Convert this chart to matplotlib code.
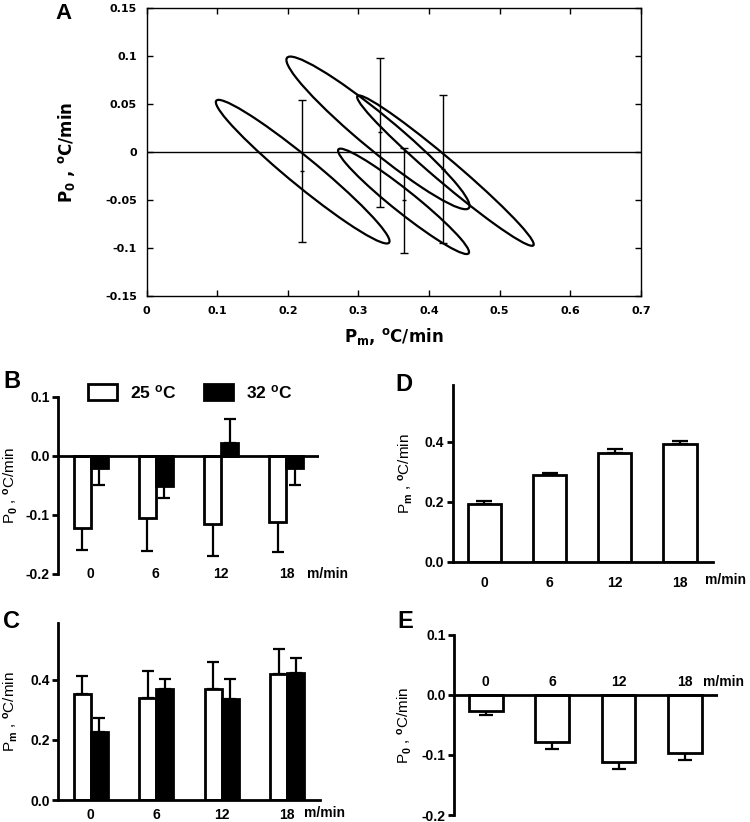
import numpy as np
import matplotlib
matplotlib.use('Agg')
import matplotlib.pyplot as plt
from matplotlib.patches import Circle, Patch
from matplotlib.transforms import Affine2D

# panel A: ellipses -> centre, half vector to the upper-left tip, horizontal half-width
ell_cx = [0.221, 0.3276, 0.4231, 0.3638]
ell_cy = [-0.0205, 0.0199, -0.0194, -0.0514]
ell_ax = [-0.119, -0.124, -0.1225, -0.0893]
ell_ay = [0.0748, 0.0795, 0.0783, 0.0549]
ell_bx = [0.031, 0.038, 0.025, 0.025]

# panel A: error bars (low / high ends)
eb_x = [0.22, 0.33, 0.365, 0.42]
eb_lo = [-0.094, -0.057, -0.105, -0.095]
eb_hi = [0.054, 0.098, 0.004, 0.059]

speeds = ['0', '6', '12', '18']

b_25 = [-0.123, -0.106, -0.115, -0.112]
b_25_err = [0.037, 0.056, 0.055, 0.052]
b_32 = [-0.021, -0.052, 0.021, -0.021]
b_32_err = [0.029, 0.020, 0.042, 0.029]

c_25 = [0.353, 0.339, 0.371, 0.420]
c_25_err = [0.058, 0.089, 0.087, 0.084]
c_32 = [0.227, 0.370, 0.336, 0.424]
c_32_err = [0.046, 0.032, 0.065, 0.048]

d_pm = [0.192, 0.288, 0.361, 0.392]
d_pm_err = [0.010, 0.008, 0.015, 0.011]

e_p0 = [-0.026, -0.078, -0.111, -0.096]
e_p0_err = [0.007, 0.012, 0.012, 0.012]

p0_ticks = [-0.2, -0.1, 0.0, 0.1]
p0_labels = ['-0.2', '-0.1', '0.0', '0.1']
pm_ticks = [0.0, 0.2, 0.4]
pm_labels = ['0.0', '0.2', '0.4']

plt.rcParams['font.family'] = 'Liberation Sans'
plt.rcParams['font.weight'] = 'bold'
plt.rcParams['mathtext.fontset'] = 'custom'
plt.rcParams['mathtext.rm'] = 'Liberation Sans:bold'
plt.rcParams['mathtext.bf'] = 'Liberation Sans:bold'
plt.rcParams['mathtext.it'] = 'Liberation Sans:bold'

W, H = 750, 822
fig = plt.figure(figsize=(7.5, 8.22), dpi=100)


def px_axes(x0, y0, x1, y1):
    return fig.add_axes([x0 / W, 1 - y1 / H, (x1 - x0) / W, (y1 - y0) / H])


# ---------------- A ----------------
axA = px_axes(146.6, 8, 641, 296)
for cx, cy, ax_, ay_, bx in zip(ell_cx, ell_cy, ell_ax, ell_ay, ell_bx):
    tr = Affine2D(np.array([[ax_, bx, cx], [ay_, 0, cy], [0, 0, 1]])) + axA.transData
    axA.add_patch(Circle((0, 0), 1, transform=tr, fill=False, lw=1.6, ec='black'))
eb_mid = [(l + h) / 2 for l, h in zip(eb_lo, eb_hi)]
eb_half = [(h - l) / 2 for l, h in zip(eb_lo, eb_hi)]
axA.errorbar(eb_x, eb_mid, yerr=eb_half, fmt='_', ms=3, mew=1, color='black',
             elinewidth=1, capsize=3, capthick=1)
axA.axhline(0, color='black', lw=1)
axA.set_xlim(0, 0.7)
axA.set_ylim(-0.15, 0.15)
axA.set_xticks(np.arange(0, 0.71, 0.1))
axA.set_xticklabels(['0', '0.1', '0.2', '0.3', '0.4', '0.5', '0.6', '0.7'])
axA.set_yticks([-0.15, -0.1, -0.05, 0, 0.05, 0.1, 0.15])
axA.set_yticklabels(['-0.15', '-0.1', '-0.05', '0', '0.05', '0.1', '0.15'])
axA.tick_params(direction='in', top=True, right=True, length=4, width=1, pad=7)
for lab in axA.get_xticklabels() + axA.get_yticklabels():
    lab.set_fontfamily('DejaVu Sans')
    lab.set_fontsize(8)
    lab.set_fontweight('bold')
for s in axA.spines.values():
    s.set_linewidth(1)
axA.set_xlabel(r'P$_\mathbf{m}$, $^\mathbf{o}$C/min', fontsize=12, fontweight='bold',
               fontfamily='DejaVu Sans', math_fontfamily='dejavusans')
axA.set_ylabel(r'P$_\mathbf{0}$ , $^\mathbf{o}$C/min', fontsize=12, fontweight='bold',
               fontfamily='DejaVu Sans', math_fontfamily='dejavusans')
axA.xaxis.set_label_coords(0.5, -0.105)
axA.yaxis.set_label_coords(-0.141, 0.5)

ylab = r'P$_\mathbf{0}$ , $^\mathbf{o}$C/min'
ylab_m = r'P$_\mathbf{m}$ , $^\mathbf{o}$C/min'


def style_bar_axes(ax):
    for s in ['top', 'right']:
        ax.spines[s].set_visible(False)
    ax.spines['left'].set_linewidth(2)
    ax.spines['bottom'].set_linewidth(2)
    ax.tick_params(axis='y', direction='out', length=4, width=2, labelsize=10, pad=2)
    ax.tick_params(axis='x', length=0, labelsize=10)


def one_sided(ax, xs, vals, errs, cap):
    lo = [e if v < 0 else 0 for v, e in zip(vals, errs)]
    hi = [0 if v < 0 else e for v, e in zip(vals, errs)]
    ax.errorbar(xs, vals, yerr=[lo, hi], fmt='none', ecolor='black', elinewidth=1.6,
                capsize=cap, capthick=1.6, zorder=1)


x = np.arange(len(speeds))
bw = 0.26

# ---------------- B ----------------
axB = px_axes(58, 396.7, 319, 573.7)
one_sided(axB, x - bw / 2, b_25, b_25_err, 4)
one_sided(axB, x + bw / 2, b_32, b_32_err, 4)
axB.bar(x - bw / 2, b_25, bw, color='white', edgecolor='black', lw=2, zorder=2)
axB.bar(x + bw / 2, b_32, bw, color='black', edgecolor='black', lw=2, zorder=2)
axB.axhline(0, color='black', lw=2, zorder=3)
axB.set_xlim(-0.5, 3.5)
axB.set_ylim(-0.2, 0.1)
axB.set_yticks(p0_ticks)
axB.set_yticklabels(p0_labels)
style_bar_axes(axB)
axB.spines['bottom'].set_visible(False)
axB.set_xticks([])
for i, s in enumerate(speeds):
    axB.text(i, -0.2, s, ha='center', va='center', fontsize=10)
axB.text(3.32, -0.2, 'm/min', ha='left', va='center', fontsize=10)
axB.set_ylabel(ylab, fontsize=11)
axB.yaxis.set_label_coords(-0.145, 0.5)
handles = [Patch(facecolor='white', edgecolor='black', lw=2),
           Patch(facecolor='black', edgecolor='black', lw=2)]
fig.legend(handles, [r'25 $^\mathbf{o}$C', r'32 $^\mathbf{o}$C'], loc='center left',
           bbox_to_anchor=(88 / W, 1 - 392 / H), ncol=2, frameon=False, fontsize=12.5,
           borderpad=0, borderaxespad=0, handlelength=1.67, handleheight=1.1,
           handletextpad=0.75, columnspacing=1.6)

# ---------------- C ----------------
axC = px_axes(58, 622.7, 320, 800)
one_sided(axC, x - bw / 2, c_25, c_25_err, 4)
one_sided(axC, x + bw / 2, c_32, c_32_err, 4)
axC.bar(x - bw / 2, c_25, bw, color='white', edgecolor='black', lw=2, zorder=2)
axC.bar(x + bw / 2, c_32, bw, color='black', edgecolor='black', lw=2, zorder=2)
axC.set_xlim(-0.5, 3.5)
axC.set_ylim(0, 0.59)
axC.set_yticks(pm_ticks)
axC.set_yticklabels(pm_labels)
style_bar_axes(axC)
axC.set_xticks(x)
axC.set_xticklabels(speeds)
axC.tick_params(axis='x', pad=6)
axC.text(3.26, -0.043, 'm/min', ha='left', va='center', fontsize=10)
axC.set_ylabel(ylab_m, fontsize=11)
axC.yaxis.set_label_coords(-0.145, 0.5)

# ---------------- D ----------------
axD = px_axes(452.7, 385, 713, 561.7)
one_sided(axD, x, d_pm, d_pm_err, 6)
axD.bar(x, d_pm, 0.51, color='white', edgecolor='black', lw=2, zorder=2)
axD.set_xlim(-0.485, 3.508)
axD.set_ylim(0, 0.589)
axD.set_yticks(pm_ticks)
axD.set_yticklabels(pm_labels)
style_bar_axes(axD)
axD.set_xticks(x)
axD.set_xticklabels(speeds)
axD.tick_params(axis='x', pad=10)
axD.text(3.385, -0.062, 'm/min', ha='left', va='center', fontsize=10)
axD.set_ylabel(ylab_m, fontsize=11)
axD.yaxis.set_label_coords(-0.145, 0.5)

# ---------------- E ----------------
axE = px_axes(454, 635, 718, 815)
one_sided(axE, x, e_p0, e_p0_err, 5)
axE.bar(x, e_p0, 0.51, color='white', edgecolor='black', lw=2, zorder=2)
axE.axhline(0, color='black', lw=2, zorder=3)
axE.set_xlim(-0.48, 3.5)
axE.set_ylim(-0.2, 0.1)
axE.set_yticks(p0_ticks)
axE.set_yticklabels(p0_labels)
style_bar_axes(axE)
axE.spines['bottom'].set_visible(False)
axE.set_xticks([])
for i, s in enumerate(speeds):
    axE.text(i, 0.022, s, ha='center', va='center', fontsize=10)
axE.text(3.27, 0.022, 'm/min', ha='left', va='center', fontsize=10)
axE.set_ylabel(ylab, fontsize=11)
axE.yaxis.set_label_coords(-0.15, 0.5)

# panel letters
fig.text(55 / W, 1 - 3 / H, 'A', fontsize=16, va='top', ha='left')
fig.text(3 / W, 1 - 370 / H, 'B', fontsize=17, va='top', ha='left')
fig.text(3 / W, 1 - 610 / H, 'C', fontsize=17, va='top', ha='left')
fig.text(395 / W, 1 - 373 / H, 'D', fontsize=17, va='top', ha='left')
fig.text(397 / W, 1 - 610 / H, 'E', fontsize=17, va='top', ha='left')

fig.savefig('out.png', dpi=100)
